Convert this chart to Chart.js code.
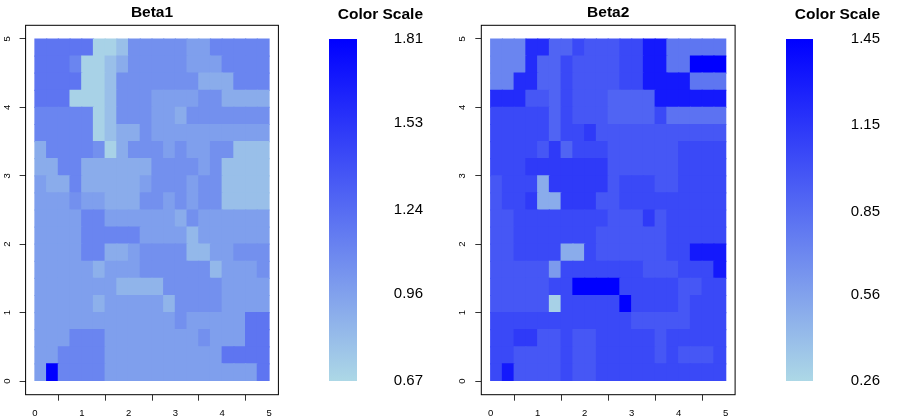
<!DOCTYPE html>
<html>
<head>
<meta charset="utf-8">
<script src="https://cdn.jsdelivr.net/npm/chart.js@4.4.1/dist/chart.umd.min.js"></script>
<style>
  html, body { margin: 0; padding: 0; background: #fff; }
  #wrap { position: relative; width: 913px; height: 420px; }
  canvas { position: absolute; top: 0; }
</style>
</head>
<body>
<div id="wrap">
  <canvas id="beta1" style="left:0px" width="290" height="420"></canvas>
  <canvas id="scale1" style="left:299px" width="124" height="420"></canvas>
  <canvas id="beta2" style="left:455px" width="290" height="420"></canvas>
  <canvas id="scale2" style="left:756px" width="124" height="420"></canvas>
</div>
<script>
// cell edges of the spatial grid (same on both axes)
var gridEdges = [0, 0.25, 0.5, 0.75, 1, 1.25, 1.5, 1.75, 2, 2.25, 2.5, 2.75, 3, 3.25, 3.5, 3.75, 4, 4.25, 4.5, 4.75, 5];
var axisTicks = [0, 1, 2, 3, 4, 5];

// colour scale ranges and labels
var beta1Range = [0.67, 1.81];
var beta1Ticks = [0.67, 0.96, 1.24, 1.53, 1.81];
var beta2Range = [0.26, 1.45];
var beta2Ticks = [0.26, 0.56, 0.85, 1.15, 1.45];

// Beta1 values, top row (y 4.75-5) first, columns x 0 -> 5
var beta1Rows = [
  [1.19,1.19,1.19,1.19,1.19,0.70,0.70,0.80,1.05,1.05,1.05,1.05,1.05,0.97,0.97,1.11,1.11,1.11,1.11,1.11],
  [1.19,1.19,1.19,1.11,0.70,0.70,0.80,0.90,1.05,1.05,1.05,1.05,1.05,0.97,0.97,0.97,1.11,1.11,1.11,1.11],
  [1.19,1.19,1.19,1.19,0.70,0.70,0.80,1.05,1.05,1.05,1.05,1.05,1.05,1.05,0.90,0.90,0.90,1.11,1.11,1.11],
  [1.19,1.19,1.19,0.70,0.70,0.70,0.80,1.05,1.05,1.05,0.97,0.97,0.97,0.97,1.05,1.05,0.90,0.90,0.90,0.90],
  [1.11,1.11,1.11,1.11,1.11,0.70,0.80,1.05,1.05,1.05,0.97,0.97,0.90,1.05,1.05,1.05,1.05,1.05,1.05,1.05],
  [1.11,1.11,1.11,1.11,1.11,0.70,0.80,0.90,0.90,1.05,0.97,0.97,0.97,0.97,0.97,0.97,0.97,0.97,0.97,0.97],
  [0.90,1.11,1.11,1.11,1.11,1.05,0.70,0.90,1.05,1.05,1.05,0.97,1.05,0.97,0.97,1.05,1.05,0.80,0.80,0.80],
  [0.90,0.90,1.11,1.11,0.90,0.90,0.90,0.90,0.90,0.90,1.05,1.05,1.05,1.05,0.97,1.05,0.80,0.80,0.80,0.80],
  [0.97,0.90,0.90,1.11,0.90,0.90,0.90,0.90,0.90,0.97,1.05,1.05,1.05,0.97,1.05,1.05,0.80,0.80,0.80,0.80],
  [0.97,0.97,0.97,1.05,0.97,0.97,0.90,0.90,0.90,1.05,1.05,0.97,1.05,0.97,1.05,1.05,0.80,0.80,0.80,0.80],
  [0.97,0.97,0.97,0.97,1.11,1.11,0.97,0.97,0.97,0.97,0.97,0.97,0.90,1.05,0.97,0.97,0.97,0.97,0.97,0.97],
  [0.97,0.97,0.97,0.97,1.11,1.11,1.11,1.11,1.11,0.97,0.97,0.97,0.97,0.84,0.97,0.97,0.97,0.97,0.97,0.97],
  [0.97,0.97,0.97,0.97,1.11,1.11,0.90,0.90,0.97,1.05,1.05,1.05,1.05,0.84,0.84,0.97,0.97,1.05,1.05,1.05],
  [0.97,0.97,0.97,0.97,0.97,0.88,0.97,0.97,0.97,1.05,1.05,1.05,1.05,1.05,1.05,0.84,0.97,0.97,0.97,1.05],
  [0.97,0.97,0.97,0.97,0.97,0.97,0.97,0.86,0.86,0.86,0.86,1.05,1.05,1.05,1.05,1.05,0.97,0.97,0.97,0.97],
  [0.97,0.97,0.97,0.97,0.97,0.88,0.97,0.97,0.97,0.97,0.97,0.86,1.05,1.05,1.05,1.05,0.97,0.97,0.97,0.97],
  [0.97,0.97,0.97,0.97,0.97,0.97,0.97,0.97,0.97,0.97,0.97,0.97,1.05,0.97,0.97,0.97,0.97,0.97,1.19,1.19],
  [0.97,0.97,0.97,1.11,1.11,1.11,0.97,0.97,0.97,0.97,0.97,0.97,0.97,0.97,1.05,0.97,0.97,0.97,1.19,1.19],
  [0.97,0.97,1.11,1.11,1.11,1.11,0.97,0.97,0.97,0.97,0.97,0.97,0.97,0.97,0.97,0.97,1.19,1.19,1.19,1.19],
  [0.97,1.81,1.11,1.11,1.11,1.11,0.97,0.97,0.97,0.97,0.97,0.97,0.97,0.97,0.97,0.97,0.97,0.97,0.97,1.19]
];

// Beta2 values, same layout
var beta2Rows = [
  [0.72,0.72,0.72,1.21,1.21,0.90,0.90,1.05,0.97,0.97,0.97,1.05,1.05,1.31,1.31,0.80,0.80,0.80,0.80,0.80],
  [0.72,0.72,0.72,1.21,0.90,0.90,1.05,0.97,0.97,0.97,0.97,1.05,1.05,1.31,1.31,0.80,0.80,1.45,1.45,1.45],
  [0.72,0.72,1.21,1.21,0.90,0.90,1.05,0.97,0.97,0.97,0.97,1.05,1.05,1.31,1.31,1.31,1.31,0.80,0.80,0.80],
  [1.21,1.21,1.21,0.97,0.97,0.90,1.05,0.97,0.97,0.97,0.90,0.90,0.90,0.90,1.31,1.31,1.31,1.31,1.31,1.31],
  [1.05,1.05,1.05,1.05,1.05,0.90,1.05,0.97,0.97,0.97,0.90,0.90,0.90,0.90,1.05,0.82,0.82,0.82,0.82,0.82],
  [1.05,1.05,1.05,1.05,1.05,0.90,1.05,1.05,1.13,0.97,0.97,0.97,0.97,0.97,0.97,0.97,0.97,0.97,0.97,0.97],
  [1.05,1.05,1.05,1.05,0.97,1.13,0.90,1.05,1.05,1.05,0.97,0.97,0.97,0.97,0.97,0.97,1.05,1.05,1.05,1.05],
  [1.05,1.05,1.05,1.13,1.13,1.13,1.13,1.13,1.13,1.13,0.97,0.97,0.97,0.97,0.97,0.97,1.05,1.05,1.05,1.05],
  [0.97,1.05,1.05,1.05,0.50,1.13,1.13,1.13,1.13,1.13,0.97,1.05,1.05,1.05,0.97,0.97,1.05,1.05,1.05,1.05],
  [0.97,1.05,1.05,1.13,0.50,0.50,1.13,1.13,1.13,0.97,0.97,1.05,1.05,1.05,1.05,1.05,1.05,1.05,1.05,1.05],
  [0.97,0.97,1.05,1.05,1.05,1.05,1.05,1.05,1.05,1.05,0.97,0.97,0.97,1.13,0.97,1.05,1.05,1.05,1.05,1.05],
  [0.97,0.97,1.05,1.05,1.05,1.05,1.05,1.05,1.05,0.97,0.97,0.97,0.97,0.97,0.97,1.05,1.05,1.05,1.05,1.05],
  [0.97,0.97,1.05,1.05,1.05,1.05,0.50,0.50,1.05,0.97,0.97,0.97,0.97,0.97,0.97,1.05,1.05,1.31,1.31,1.31],
  [0.97,0.97,0.97,0.97,0.97,0.60,1.05,1.05,1.05,1.05,1.05,1.05,1.05,0.97,0.97,0.97,1.05,1.05,1.05,1.31],
  [0.97,0.97,0.97,0.97,0.97,1.05,1.05,1.45,1.45,1.45,1.45,1.05,1.05,1.05,1.05,1.05,0.97,0.97,1.05,1.05],
  [0.97,0.97,0.97,0.97,0.97,0.30,1.05,1.05,1.05,1.05,1.05,1.45,1.05,1.05,1.05,1.05,0.97,1.05,1.05,1.05],
  [1.05,1.05,1.05,1.05,1.05,1.05,1.05,1.05,1.05,1.05,1.05,1.05,0.97,0.97,0.97,0.97,0.97,1.05,1.05,1.05],
  [1.05,1.05,1.13,1.13,0.97,0.97,1.05,0.97,0.97,1.05,1.05,1.05,1.05,1.05,0.97,1.05,1.05,1.05,1.05,1.05],
  [1.05,1.05,0.97,0.97,0.97,0.97,1.05,0.97,0.97,1.05,1.05,1.05,1.05,1.05,0.97,1.05,0.97,0.97,0.97,1.05],
  [1.05,1.31,0.97,0.97,0.97,0.97,1.05,0.97,0.97,1.05,1.05,1.05,1.05,1.05,1.05,1.05,1.05,1.05,1.05,1.05]
];

var FONT = "'Liberation Sans', Arial, sans-serif";

// lightblue -> blue, like colorRampPalette(c("lightblue","blue"))
function rampColor(v, range) {
    var t = (v - range[0]) / (range[1] - range[0]);
    t = Math.max(0, Math.min(1, t));
    var r = Math.round(173 * (1 - t));
    var g = Math.round(216 * (1 - t));
    var b = Math.round(230 + 25 * t);
    return 'rgb(' + r + ',' + g + ',' + b + ')';
}

// box round the plot region
var framePlugin = {
    id: 'frame',
    afterDraw: function (chart) {
        var a = chart.chartArea;
        var c = chart.ctx;
        c.save();
        c.strokeStyle = '#000';
        c.lineWidth = 1;
        c.strokeRect(a.left, a.top, a.right - a.left, a.bottom - a.top);
        c.restore();
    }
};

function setTicks(list) {
    return function (scale) {
        scale.ticks = list.map(function (v) { return {value: v}; });
    };
}

function makePanel(id, title, rows, range, axisW, padRight) {
    var cells = [];
    var colors = [];
    var n = rows.length;
    rows.forEach(function (row, r) {
        row.forEach(function (v, c) {
            cells.push({
                x: (gridEdges[c] + gridEdges[c + 1]) / 2,
                y: [gridEdges[n - r - 1], gridEdges[n - r]]
            });
            colors.push(rampColor(v, range));
        });
    });

    var tickGrid = {display: true, drawOnChartArea: false, drawTicks: true, tickLength: 6, color: '#333'};

    return new Chart(document.getElementById(id), {
        type: 'bar',
        data: {
            datasets: [{
                data: cells,
                backgroundColor: colors,
                borderWidth: 0,
                inflateAmount: 0.6,
                barPercentage: 1,
                categoryPercentage: 1
            }]
        },
        options: {
            responsive: false,
            animation: false,
            events: [],
            layout: {padding: {left: 0, right: padRight, top: 0, bottom: 0}},
            plugins: {
                legend: {display: false},
                tooltip: {enabled: false},
                title: {
                    display: true,
                    text: title,
                    fullSize: false,
                    color: '#000',
                    font: {family: FONT, size: 15.5, weight: 'bold'},
                    padding: {top: 3.5, bottom: 3.2}
                }
            },
            scales: {
                x: {
                    type: 'linear',
                    min: -0.2,
                    max: 5.2,
                    offset: false,
                    afterBuildTicks: setTicks(axisTicks),
                    afterFit: function (s) { s.height = 25.3; },
                    grid: tickGrid,
                    border: {display: false},
                    ticks: {font: {family: FONT, size: 9.5}, color: '#000', padding: 7, maxRotation: 0}
                },
                y: {
                    type: 'linear',
                    min: -0.2,
                    max: 5.2,
                    afterBuildTicks: setTicks(axisTicks),
                    afterFit: function (s) { s.width = axisW; },
                    grid: tickGrid,
                    border: {display: false},
                    ticks: {
                        font: {family: FONT, size: 9.5}, color: '#000',
                        minRotation: 90, maxRotation: 90,
                        crossAlign: 'center', padding: 10
                    }
                }
            }
        },
        plugins: [framePlugin]
    });
}

function makeScale(id, range, ticks, padLeft, axisW) {
    return new Chart(document.getElementById(id), {
        type: 'bar',
        data: {
            labels: [''],
            datasets: [{
                data: [[range[0], range[1]]],
                backgroundColor: function (ctx) {
                    var a = ctx.chart.chartArea;
                    if (!a) return rampColor(range[1], range);
                    var g = ctx.chart.ctx.createLinearGradient(0, a.bottom, 0, a.top);
                    g.addColorStop(0, rampColor(range[0], range));
                    g.addColorStop(1, rampColor(range[1], range));
                    return g;
                },
                borderWidth: 0,
                barPercentage: 1,
                categoryPercentage: 1
            }]
        },
        options: {
            responsive: false,
            animation: false,
            events: [],
            layout: {padding: {left: padLeft, right: 0, top: 0, bottom: 39}},
            plugins: {
                legend: {display: false},
                tooltip: {enabled: false},
                title: {
                    display: true,
                    text: 'Color Scale',
                    align: 'end',
                    color: '#000',
                    font: {family: FONT, size: 15.5, weight: 'bold'},
                    padding: {top: 5, bottom: 15.4}
                }
            },
            scales: {
                x: {display: false},
                y: {
                    position: 'right',
                    min: range[0],
                    max: range[1],
                    afterBuildTicks: setTicks(ticks),
                    afterFit: function (s) { s.width = axisW; },
                    grid: {display: false},
                    border: {display: false},
                    ticks: {
                        crossAlign: 'far',
                        color: '#000',
                        font: {family: FONT, size: 15},
                        callback: function (v) { return v.toFixed(2); }
                    }
                }
            }
        }
    });
}

makePanel('beta1', 'Beta1', beta1Rows, beta1Range, 25.6, 11.6);
makeScale('scale1', beta1Range, beta1Ticks, 30, 66);
makePanel('beta2', 'Beta2', beta2Rows, beta2Range, 26.3, 9.9);
makeScale('scale2', beta2Range, beta2Ticks, 30, 67);
</script>
</body>
</html>
